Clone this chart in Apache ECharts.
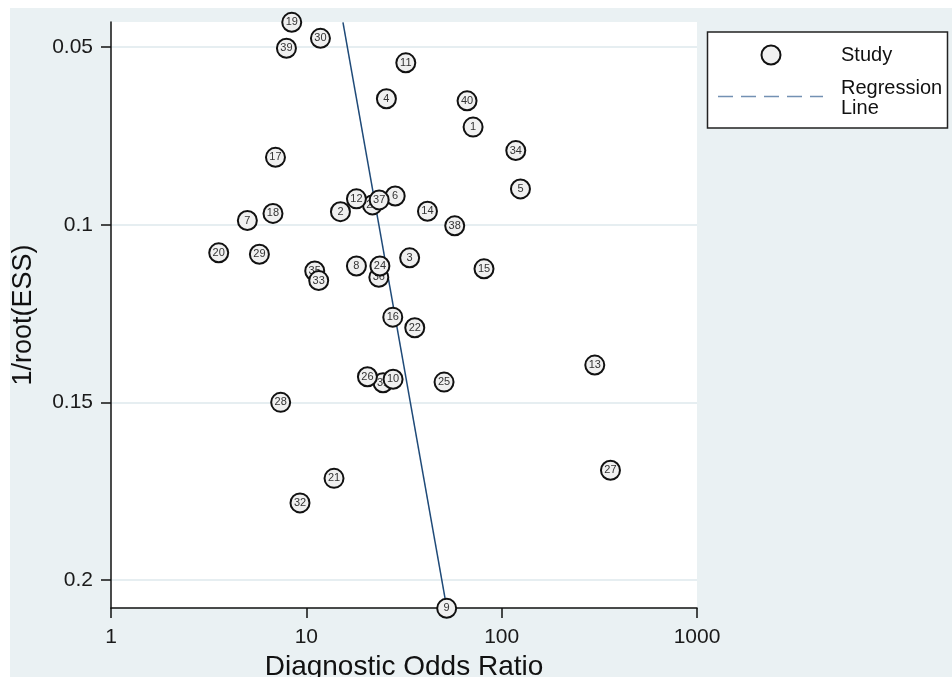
<!DOCTYPE html>
<html><head><meta charset="utf-8">
<script src="https://cdn.jsdelivr.net/npm/echarts@6/dist/echarts.min.js"></script>
<style>html,body{margin:0;padding:0;background:#fff}#c{width:952px;height:677px}</style>
</head><body><div id="c"></div>
<script>
// Study identifiers, diagnostic odds ratio and 1/root(ESS)
const studyIds = [1,2,3,4,5,6,7,8,9,10,11,12,13,14,15,16,17,18,19,20,21,22,23,24,25,26,27,28,29,30,31,32,33,34,35,36,37,38,39,40];
const studyDor = [71.4,14.95,33.8,25.7,124.8,28.5,4.99,18.05,52.3,27.8,32.3,18.05,299.7,41.7,81.2,27.7,6.95,6.75,8.42,3.56,13.86,35.9,21.8,23.8,50.7,20.55,360.6,7.39,5.75,11.81,24.7,9.28,11.57,118.1,11.04,23.5,23.6,57.5,7.91,66.5];
const studyInvRootEss = [0.0725,0.0963,0.1093,0.0645,0.0899,0.0919,0.0988,0.1116,0.2080,0.1435,0.0544,0.0927,0.1395,0.0962,0.1124,0.1260,0.0810,0.0968,0.0430,0.1079,0.1714,0.1290,0.0944,0.1116,0.1443,0.1428,0.1691,0.1500,0.1083,0.0475,0.1445,0.1783,0.1157,0.0791,0.1130,0.1148,0.0930,0.1003,0.0503,0.0651];
// studies whose markers are drawn beneath overlapping neighbours
const underneathIds = [23,31,35,36];
// regression line end points
const regressionDor = [15.4, 52.4];
const regressionInvRootEss = [0.0430, 0.2080];
// ticks
const xTicks = [1,10,100,1000];
const xTickLabels = ['1','10','100','1000'];
const yTicks = [0.05,0.1,0.15,0.2];
const yTickLabels = ['0.05','0.1','0.15','0.2'];

const FONT = "'Liberation Sans', Arial, sans-serif";
const chart = echarts.init(document.getElementById('c'), null, {renderer:'canvas'});

const backPts = [], frontPts = [];
studyIds.forEach((id,i)=>{
  const p = [studyDor[i], studyInvRootEss[i], id];
  (underneathIds.includes(id) ? backPts : frontPts).push(p);
});
const regData = regressionDor.map((x,i)=>[x, regressionInvRootEss[i]]);

function studySeries(data, z){
  return {
    type:'scatter', name:'Study', data, z, clip:false,
    symbol:'circle', symbolSize:19,
    itemStyle:{color:'#f0f0f0', borderColor:'#111', borderWidth:2, opacity:1},
    label:{show:true, position:'inside', formatter:p=>String(p.value[2]), fontSize:11, color:'#333', fontFamily:FONT},
    emphasis:{disabled:true}
  };
}

chart.setOption({
  animation:false,
  backgroundColor:'#fff',
  textStyle:{fontFamily:FONT},
  grid:{left:111, right:255, top:22, bottom:69, show:true, backgroundColor:'#fff', borderWidth:0, containLabel:false, outerBoundsMode:'none'},
  xAxis:{
    type:'log', logBase:10, min:1, max:1000,
    name:'Diagnostic Odds Ratio', nameLocation:'middle', nameGap:42,
    nameTextStyle:{fontSize:28, color:'#111', fontFamily:FONT},
    axisLine:{show:true, onZero:false, lineStyle:{color:'#111', width:1.5}},
    axisTick:{show:true, length:10, lineStyle:{color:'#111', width:1.5}, customValues:xTicks},
    axisLabel:{fontSize:21, color:'#1a1a1a', margin:19, customValues:xTicks,
      formatter:v=>{const k=xTicks.findIndex(t=>Math.abs(t-v)/t<1e-6);return k>=0?xTickLabels[k]:'';}},
    splitLine:{show:false}, minorTick:{show:false}, minorSplitLine:{show:false}
  },
  yAxis:{
    type:'value', inverse:true, min:0.0429, max:0.2079,
    name:'1/root(ESS)', nameLocation:'middle', nameGap:74,
    nameTextStyle:{fontSize:27, color:'#111', fontFamily:FONT},
    axisLine:{show:true, onZero:false, lineStyle:{color:'#111', width:1.5}},
    axisTick:{show:true, length:10, lineStyle:{color:'#111', width:1.5}, customValues:yTicks},
    axisLabel:{fontSize:21, color:'#1a1a1a', margin:18, customValues:yTicks,
      formatter:v=>{const k=yTicks.findIndex(t=>Math.abs(t-v)<1e-9);return k>=0?yTickLabels[k]:'';}},
    splitLine:{show:true, lineStyle:{color:'#e6eef1', width:2}}
  },
  series:[
    {type:'line', name:'Regression Line', data:regData, z:2, clip:false, symbol:'none',
     lineStyle:{color:'#1f4a78', width:1.5}, emphasis:{disabled:true}},
    studySeries(backPts, 3),
    studySeries(frontPts, 4)
  ],
  graphic:[
    {type:'rect', z:-100, silent:true, shape:{x:10,y:8,width:942,height:669}, style:{fill:'#eaf1f3'}},
    {type:'group', z:100, children:[
      {type:'rect', shape:{x:707.5,y:32,width:240,height:96}, style:{fill:'#fff', stroke:'#222', lineWidth:1.5}},
      {type:'circle', shape:{cx:771,cy:55,r:9.5}, style:{fill:'#f0f0f0', stroke:'#111', lineWidth:2}},
      {type:'text', x:841, y:55.5, style:{text:'Study', font:"20px 'Liberation Sans', Arial, sans-serif", fill:'#111', verticalAlign:'middle'}},
      {type:'line', shape:{x1:718,y1:96.5,x2:823,y2:96.5}, style:{stroke:'#7391b3', lineWidth:1.5, lineDash:[15,8]}},
      {type:'text', x:841, y:98.5, style:{text:'Regression\nLine', font:"20px 'Liberation Sans', Arial, sans-serif", lineHeight:20, fill:'#111', verticalAlign:'middle'}}
    ]}
  ]
});
</script></body></html>
